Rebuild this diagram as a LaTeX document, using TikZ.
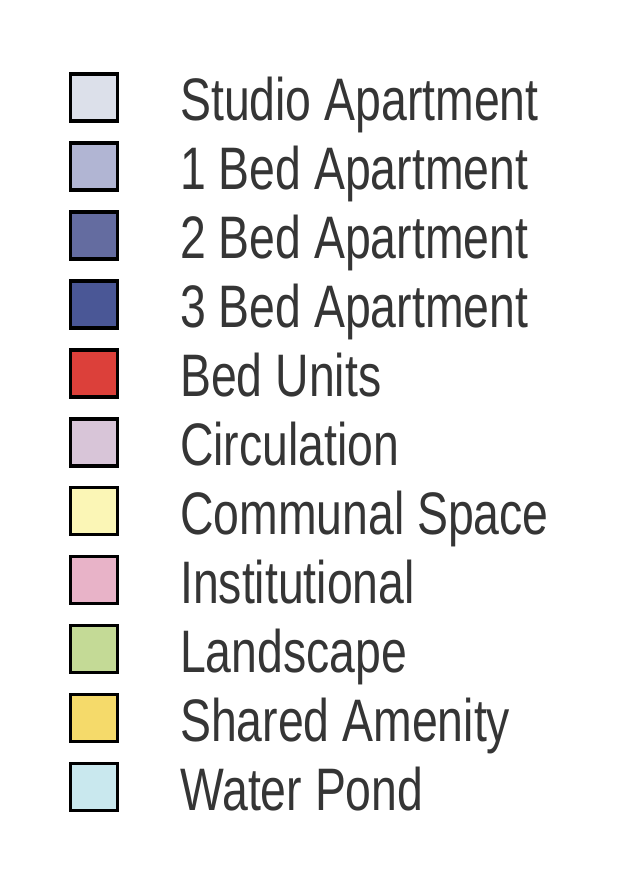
\documentclass[tikz,border=0pt]{standalone}
\usepackage{fontspec}
\setmainfont{Liberation Sans}
\definecolor{txt}{HTML}{353535}
\definecolor{cStudio}{HTML}{DCE0EA}
\definecolor{cOne}{HTML}{B1B5D3}
\definecolor{cTwo}{HTML}{646CA0}
\definecolor{cThree}{HTML}{4A5796}
\definecolor{cBedU}{HTML}{DC403A}
\definecolor{cCirc}{HTML}{D8C5D8}
\definecolor{cComm}{HTML}{FBF6B6}
\definecolor{cInst}{HTML}{E8B3C8}
\definecolor{cLand}{HTML}{C4DA96}
\definecolor{cShared}{HTML}{F5DA6A}
\definecolor{cWater}{HTML}{C9E8EE}
\tikzset{
  swatch/.style={draw=black, line width=3.5pt, minimum width=47pt, minimum height=47pt, inner sep=0pt, anchor=center},
  label/.style={anchor=base west, inner sep=0pt, text=txt, font=\fontsize{60}{72}\selectfont}
}
\begin{document}
\begin{tikzpicture}[x=1pt,y=-1pt]
\useasboundingbox (0,0) rectangle (630,884);
\foreach \i/\c/\t in {0/cStudio/Studio Apartment,1/cOne/1 Bed Apartment,2/cTwo/2 Bed Apartment,3/cThree/3 Bed Apartment,4/cBedU/Bed Units,5/cCirc/Circulation,6/cComm/Communal Space,7/cInst/Institutional,8/cLand/Landscape,9/cShared/Shared Amenity,10/cWater/Water Pond}{
  \pgfmathsetmacro{\yy}{97.5+68.95*\i}
  \node[swatch, fill=\c] (s\i) at (94,\yy) {};
  \node[label] (l\i) at (180,\yy+23) {\scalebox{0.773}[1]{\t}};
}
\end{tikzpicture}
\end{document}
